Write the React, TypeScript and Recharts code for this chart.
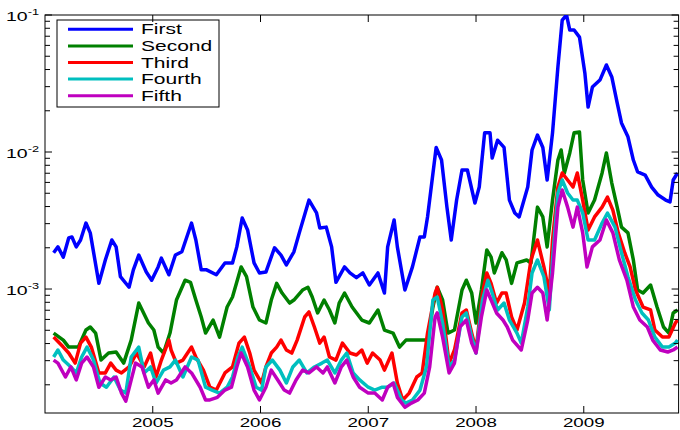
import React from 'react';
import { LineChart, Line, XAxis, YAxis, Customized } from 'recharts';

// Series labels and colours (plotted in this order, so Fifth ends up on top)
const seriesNames = ['First', 'Second', 'Third', 'Fourth', 'Fifth'];
const seriesColors = ['#0000ff', '#008000', '#ff0000', '#00bfbf', '#bf00bf'];

// Dates are decimal years
const firstDates = [2004.08, 2004.12, 2004.17, 2004.22, 2004.25, 2004.29, 2004.33, 2004.38, 2004.42, 2004.5, 2004.56, 2004.62, 2004.66, 2004.7, 2004.78, 2004.82, 2004.87, 2004.94, 2004.99, 2005.05, 2005.08, 2005.15, 2005.21, 2005.27, 2005.36, 2005.4, 2005.45, 2005.5, 2005.59, 2005.67, 2005.74, 2005.78, 2005.83, 2005.88, 2005.94, 2005.99, 2006.05, 2006.13, 2006.19, 2006.24, 2006.31, 2006.36, 2006.45, 2006.52, 2006.55, 2006.61, 2006.66, 2006.7, 2006.78, 2006.83, 2006.89, 2006.95, 2007.01, 2007.09, 2007.15, 2007.18, 2007.24, 2007.27, 2007.34, 2007.41, 2007.48, 2007.52, 2007.55, 2007.63, 2007.68, 2007.73, 2007.77, 2007.82, 2007.87, 2007.92, 2007.99, 2008.03, 2008.08, 2008.13, 2008.15, 2008.2, 2008.26, 2008.31, 2008.36, 2008.4, 2008.48, 2008.52, 2008.57, 2008.62, 2008.66, 2008.71, 2008.76, 2008.8, 2008.84, 2008.87, 2008.91, 2008.96, 2009.01, 2009.04, 2009.08, 2009.15, 2009.21, 2009.26, 2009.31, 2009.35, 2009.41, 2009.46, 2009.5, 2009.57, 2009.63, 2009.69, 2009.76, 2009.8, 2009.83, 2009.87];
const firstValues = [0.00184, 0.00203, 0.00171, 0.00236, 0.0024, 0.00203, 0.00228, 0.00303, 0.00257, 0.0011, 0.00163, 0.00228, 0.00203, 0.00123, 0.00103, 0.00138, 0.00177, 0.00133, 0.00116, 0.00145, 0.00168, 0.00127, 0.00177, 0.00187, 0.00303, 0.00228, 0.00138, 0.00138, 0.00127, 0.00155, 0.00155, 0.00203, 0.0033, 0.0027, 0.00155, 0.00131, 0.00133, 0.002, 0.00177, 0.0015, 0.00187, 0.00257, 0.00446, 0.00359, 0.00279, 0.00283, 0.00203, 0.00112, 0.00145, 0.00131, 0.00121, 0.00131, 0.00107, 0.00131, 0.000935, 0.00203, 0.00319, 0.00203, 0.000983, 0.00145, 0.0024, 0.0024, 0.00336, 0.0108, 0.00874, 0.00396, 0.00228, 0.00446, 0.00739, 0.00739, 0.00424, 0.00555, 0.0138, 0.0138, 0.00904, 0.0122, 0.0108, 0.00446, 0.00359, 0.00336, 0.00555, 0.01034, 0.0133, 0.0108, 0.00625, 0.0138, 0.0418, 0.0919, 0.1, 0.0777, 0.0777, 0.069, 0.0378, 0.0213, 0.0298, 0.0335, 0.0432, 0.0353, 0.0228, 0.0163, 0.0129, 0.00874, 0.00715, 0.00679, 0.00555, 0.00485, 0.00446, 0.00432, 0.00625, 0.00703];

const secondDates = [2004.08, 2004.17, 2004.22, 2004.31, 2004.38, 2004.42, 2004.47, 2004.52, 2004.59, 2004.66, 2004.73, 2004.8, 2004.87, 2004.96, 2005.01, 2005.05, 2005.1, 2005.16, 2005.22, 2005.3, 2005.35, 2005.4, 2005.45, 2005.49, 2005.56, 2005.62, 2005.69, 2005.74, 2005.82, 2005.87, 2005.93, 2005.99, 2006.05, 2006.1, 2006.15, 2006.2, 2006.27, 2006.31, 2006.39, 2006.44, 2006.48, 2006.53, 2006.59, 2006.64, 2006.69, 2006.73, 2006.78, 2006.85, 2006.94, 2007.01, 2007.09, 2007.15, 2007.23, 2007.29, 2007.35, 2007.43, 2007.5, 2007.55, 2007.6, 2007.64, 2007.69, 2007.74, 2007.8, 2007.87, 2007.91, 2007.96, 2008.0, 2008.05, 2008.1, 2008.14, 2008.17, 2008.24, 2008.28, 2008.33, 2008.38, 2008.47, 2008.51, 2008.57, 2008.62, 2008.66, 2008.71, 2008.76, 2008.79, 2008.82, 2008.87, 2008.91, 2008.96, 2008.99, 2009.04, 2009.1, 2009.17, 2009.21, 2009.26, 2009.31, 2009.35, 2009.41, 2009.46, 2009.5, 2009.55, 2009.62, 2009.68, 2009.74, 2009.79, 2009.83, 2009.87];
const secondValues = [0.000477, 0.000424, 0.000377, 0.000377, 0.000502, 0.000528, 0.000477, 0.000303, 0.000341, 0.000347, 0.000288, 0.000424, 0.00079, 0.000565, 0.000502, 0.000377, 0.000341, 0.000477, 0.000831, 0.00116, 0.00112, 0.000831, 0.000625, 0.000477, 0.000594, 0.000446, 0.000739, 0.000874, 0.00145, 0.00123, 0.000739, 0.000594, 0.000565, 0.000831, 0.0011, 0.000935, 0.00079, 0.000831, 0.000983, 0.00103, 0.000874, 0.000669, 0.000831, 0.000703, 0.000565, 0.00079, 0.000935, 0.000739, 0.000594, 0.000565, 0.000703, 0.000502, 0.000477, 0.000377, 0.000424, 0.000424, 0.000424, 0.000424, 0.000739, 0.00103, 0.000831, 0.000477, 0.000502, 0.000983, 0.00116, 0.000935, 0.000565, 0.000983, 0.00193, 0.00171, 0.00131, 0.00184, 0.00163, 0.0011, 0.00155, 0.00163, 0.00155, 0.00396, 0.00336, 0.00203, 0.00446, 0.00874, 0.01034, 0.00703, 0.00984, 0.0138, 0.014, 0.00625, 0.00359, 0.00446, 0.00703, 0.00984, 0.00594, 0.00396, 0.00283, 0.00257, 0.00163, 0.000983, 0.000935, 0.00107, 0.000739, 0.000528, 0.000477, 0.000669, 0.000703];

const thirdDates = [2004.08, 2004.17, 2004.22, 2004.28, 2004.33, 2004.38, 2004.43, 2004.5, 2004.56, 2004.61, 2004.66, 2004.71, 2004.78, 2004.85, 2004.92, 2004.98, 2005.03, 2005.08, 2005.15, 2005.17, 2005.22, 2005.28, 2005.36, 2005.4, 2005.47, 2005.53, 2005.59, 2005.67, 2005.74, 2005.8, 2005.85, 2005.9, 2005.94, 2006.01, 2006.05, 2006.1, 2006.15, 2006.19, 2006.24, 2006.29, 2006.34, 2006.41, 2006.45, 2006.5, 2006.55, 2006.59, 2006.64, 2006.7, 2006.76, 2006.83, 2006.89, 2006.94, 2006.99, 2007.04, 2007.11, 2007.15, 2007.22, 2007.27, 2007.32, 2007.38, 2007.45, 2007.5, 2007.55, 2007.62, 2007.64, 2007.69, 2007.75, 2007.8, 2007.87, 2007.91, 2007.96, 2008.0, 2008.06, 2008.1, 2008.14, 2008.19, 2008.24, 2008.28, 2008.33, 2008.38, 2008.45, 2008.51, 2008.57, 2008.63, 2008.68, 2008.71, 2008.76, 2008.8, 2008.85, 2008.9, 2008.94, 2008.99, 2009.04, 2009.1, 2009.17, 2009.22, 2009.27, 2009.32, 2009.38, 2009.43, 2009.48, 2009.55, 2009.62, 2009.66, 2009.73, 2009.79, 2009.85, 2009.87];
const thirdValues = [0.000446, 0.000377, 0.000341, 0.000288, 0.000403, 0.000446, 0.000377, 0.000244, 0.000244, 0.000288, 0.000256, 0.000244, 0.00027, 0.000341, 0.00027, 0.000341, 0.000228, 0.000303, 0.000424, 0.000359, 0.000288, 0.000303, 0.000377, 0.000319, 0.000256, 0.000192, 0.000183, 0.000244, 0.00027, 0.000403, 0.000446, 0.000341, 0.000256, 0.000206, 0.00027, 0.000341, 0.000377, 0.000424, 0.000359, 0.000341, 0.000424, 0.000625, 0.00068, 0.000528, 0.000403, 0.000446, 0.000319, 0.000303, 0.000403, 0.000341, 0.00033, 0.000359, 0.000288, 0.000341, 0.000303, 0.000256, 0.000341, 0.000206, 0.000155, 0.000174, 0.000228, 0.000244, 0.000477, 0.000935, 0.00103, 0.000703, 0.000288, 0.000359, 0.000669, 0.000703, 0.000477, 0.000359, 0.000935, 0.00131, 0.0011, 0.00079, 0.000935, 0.000935, 0.000625, 0.000502, 0.00079, 0.00163, 0.00228, 0.00145, 0.000935, 0.00228, 0.00555, 0.00703, 0.00625, 0.00555, 0.00703, 0.00446, 0.0027, 0.00336, 0.00396, 0.00469, 0.00377, 0.00257, 0.00184, 0.00145, 0.000983, 0.000739, 0.000703, 0.000502, 0.000446, 0.000446, 0.000565, 0.000594];

const fourthDates = [2004.08, 2004.12, 2004.17, 2004.24, 2004.29, 2004.34, 2004.39, 2004.45, 2004.51, 2004.57, 2004.64, 2004.7, 2004.75, 2004.8, 2004.87, 2004.92, 2004.98, 2005.03, 2005.1, 2005.16, 2005.21, 2005.28, 2005.36, 2005.42, 2005.49, 2005.55, 2005.62, 2005.69, 2005.74, 2005.79, 2005.83, 2005.9, 2005.96, 2006.01, 2006.05, 2006.11, 2006.18, 2006.24, 2006.3, 2006.36, 2006.43, 2006.5, 2006.57, 2006.62, 2006.69, 2006.75, 2006.8, 2006.86, 2006.92, 2007.0, 2007.06, 2007.13, 2007.18, 2007.24, 2007.31, 2007.35, 2007.41, 2007.48, 2007.54, 2007.6, 2007.64, 2007.69, 2007.75, 2007.8, 2007.87, 2007.91, 2007.96, 2008.0, 2008.06, 2008.11, 2008.15, 2008.2, 2008.26, 2008.31, 2008.38, 2008.42, 2008.48, 2008.52, 2008.57, 2008.63, 2008.68, 2008.71, 2008.76, 2008.8, 2008.85, 2008.9, 2008.94, 2008.99, 2009.04, 2009.1, 2009.17, 2009.22, 2009.29, 2009.35, 2009.41, 2009.48, 2009.54, 2009.6, 2009.66, 2009.73, 2009.79, 2009.85, 2009.87];
const fourthValues = [0.000319, 0.000359, 0.000303, 0.00027, 0.000244, 0.000319, 0.000377, 0.000303, 0.000206, 0.000192, 0.000228, 0.000183, 0.000174, 0.000319, 0.000377, 0.000244, 0.00027, 0.000206, 0.000256, 0.00027, 0.000303, 0.000228, 0.000319, 0.000303, 0.000192, 0.000183, 0.000174, 0.000192, 0.000228, 0.000319, 0.000377, 0.00027, 0.000192, 0.000183, 0.00027, 0.000303, 0.000256, 0.000206, 0.00027, 0.000303, 0.000244, 0.00027, 0.000288, 0.000303, 0.000244, 0.000303, 0.000341, 0.000244, 0.000217, 0.000192, 0.000183, 0.000192, 0.000192, 0.000206, 0.000155, 0.000147, 0.000155, 0.000183, 0.00027, 0.000831, 0.000874, 0.000565, 0.00027, 0.000303, 0.000625, 0.000669, 0.000446, 0.000341, 0.000831, 0.00116, 0.000935, 0.000703, 0.00079, 0.000594, 0.000477, 0.000403, 0.000739, 0.00131, 0.00163, 0.00123, 0.000703, 0.00163, 0.00502, 0.00625, 0.00502, 0.00446, 0.00446, 0.00359, 0.00228, 0.00228, 0.00303, 0.00359, 0.00283, 0.00184, 0.00123, 0.000831, 0.000669, 0.000594, 0.000446, 0.000377, 0.000377, 0.000403, 0.000424];

const fifthDates = [2004.08, 2004.12, 2004.19, 2004.24, 2004.29, 2004.34, 2004.39, 2004.45, 2004.5, 2004.56, 2004.61, 2004.66, 2004.71, 2004.75, 2004.8, 2004.84, 2004.9, 2004.96, 2005.01, 2005.05, 2005.12, 2005.17, 2005.22, 2005.3, 2005.36, 2005.44, 2005.49, 2005.53, 2005.6, 2005.67, 2005.73, 2005.78, 2005.82, 2005.88, 2005.94, 2005.99, 2006.05, 2006.1, 2006.16, 2006.22, 2006.27, 2006.33, 2006.39, 2006.45, 2006.52, 2006.58, 2006.62, 2006.69, 2006.75, 2006.8, 2006.86, 2006.92, 2007.0, 2007.06, 2007.13, 2007.18, 2007.23, 2007.27, 2007.34, 2007.4, 2007.46, 2007.52, 2007.57, 2007.62, 2007.64, 2007.69, 2007.75, 2007.8, 2007.85, 2007.91, 2007.96, 2008.0, 2008.05, 2008.1, 2008.14, 2008.19, 2008.25, 2008.29, 2008.34, 2008.42, 2008.48, 2008.52, 2008.57, 2008.62, 2008.66, 2008.71, 2008.76, 2008.8, 2008.85, 2008.9, 2008.94, 2008.99, 2009.03, 2009.08, 2009.15, 2009.21, 2009.27, 2009.33, 2009.4, 2009.46, 2009.52, 2009.59, 2009.64, 2009.71, 2009.78, 2009.83, 2009.87];
const fifthValues = [0.000303, 0.000288, 0.000228, 0.00027, 0.000217, 0.000288, 0.000319, 0.00027, 0.000192, 0.000228, 0.000217, 0.000228, 0.000174, 0.000152, 0.000217, 0.000288, 0.00027, 0.000192, 0.000217, 0.000174, 0.000217, 0.000206, 0.000217, 0.00027, 0.000244, 0.000192, 0.000155, 0.000155, 0.000162, 0.000183, 0.000192, 0.00027, 0.000341, 0.00027, 0.000183, 0.000155, 0.000192, 0.000256, 0.000217, 0.000183, 0.000174, 0.000217, 0.000256, 0.000244, 0.00027, 0.000244, 0.00027, 0.000206, 0.00027, 0.000303, 0.000228, 0.000192, 0.000174, 0.000174, 0.000155, 0.000192, 0.000206, 0.000162, 0.000137, 0.000147, 0.000155, 0.000174, 0.00027, 0.000625, 0.000669, 0.000446, 0.000244, 0.000288, 0.000528, 0.000594, 0.000403, 0.000341, 0.000625, 0.000983, 0.000831, 0.000669, 0.000594, 0.000528, 0.000424, 0.000359, 0.000594, 0.000935, 0.00103, 0.000935, 0.000594, 0.00131, 0.00396, 0.00528, 0.00396, 0.00283, 0.00396, 0.00257, 0.00145, 0.00203, 0.00228, 0.00319, 0.00257, 0.00163, 0.00116, 0.000739, 0.000594, 0.000528, 0.000424, 0.000359, 0.000347, 0.000359, 0.000377];

// Axis ticks
const yearTicks = [2005, 2006, 2007, 2008, 2009];
const decadeTicks = [1e-3, 1e-2, 1e-1];
const minorMantissas = [2, 3, 4, 5, 6, 7, 8, 9];
const minorDecades = [1e-4, 1e-3, 1e-2];

const X_DOMAIN: [number, number] = [2004.0, 2009.88];
const Y_DOMAIN: [number, number] = [1.245e-4, 0.1];

// Chart geometry
const WIDTH = 680;
const HEIGHT = 430;
const PLOT = { left: 45, top: 15, right: 678.6, bottom: 413 };
const FONT = '"Liberation Sans", Arial, Helvetica, sans-serif';
const STRETCH = 1.5;

const seriesData = [
  [firstDates, firstValues],
  [secondDates, secondValues],
  [thirdDates, thirdValues],
  [fourthDates, fourthValues],
  [fifthDates, fifthValues],
].map(([dates, values]) => dates.map((t, i) => ({ t, v: values[i] })));

const yTicks = [
  ...minorDecades.flatMap((d) => minorMantissas.map((m) => +(m * d).toPrecision(3))),
  ...decadeTicks,
].sort((a, b) => a - b);

const YTick = (props: any) => {
  const { y, payload } = props;
  const lg = Math.log10(payload.value);
  const exp = Math.round(lg);
  const major = Math.abs(lg - exp) < 1e-6;
  const len = major ? 7 : 5;
  return (
    <g>
      <line x1={PLOT.left} x2={PLOT.left + len} y1={y} y2={y} stroke="#000" strokeWidth={1} />
      <line x1={PLOT.right - len} x2={PLOT.right} y1={y} y2={y} stroke="#000" strokeWidth={1} />
      {major && (
        <text
          transform={`translate(${PLOT.left - 6},${y + 6}) scale(${STRETCH},1)`}
          textAnchor="end"
          fontFamily={FONT}
          fontSize={13}
          fill="#000"
        >
          <tspan>10</tspan>
          <tspan dy={-6.5} fontSize={8.5}>{exp}</tspan>
        </text>
      )}
    </g>
  );
};

const XTick = (props: any) => {
  const { x, payload } = props;
  return (
    <g>
      <line x1={x} x2={x} y1={PLOT.bottom - 7} y2={PLOT.bottom} stroke="#000" strokeWidth={1} />
      <line x1={x} x2={x} y1={PLOT.top} y2={PLOT.top + 7} stroke="#000" strokeWidth={1} />
      <text
        transform={`translate(${x},${PLOT.bottom + 14}) scale(${STRETCH},1)`}
        textAnchor="middle"
        fontFamily={FONT}
        fontSize={12.5}
        fill="#000"
      >
        {payload.value}
      </text>
    </g>
  );
};

const Frame = () => (
  <rect
    x={PLOT.left}
    y={PLOT.top}
    width={PLOT.right - PLOT.left}
    height={PLOT.bottom - PLOT.top}
    fill="none"
    stroke="#000"
    strokeWidth={1}
  />
);

const LegendBox = () => {
  const box = { x: 57, y: 20, w: 162, h: 87 };
  const rowTop = 29.3;
  const rowStep = 16.6;
  return (
    <g>
      <rect x={box.x} y={box.y} width={box.w} height={box.h} fill="#fff" stroke="#000" strokeWidth={1} />
      {seriesNames.map((name, i) => {
        const ry = rowTop + i * rowStep;
        return (
          <g key={name}>
            <line x1={68} x2={133} y1={ry} y2={ry} stroke={seriesColors[i]} strokeWidth={3} />
            <text
              transform={`translate(141,${ry + 5}) scale(${STRETCH},1)`}
              fontFamily={FONT}
              fontSize={14}
              fill="#000"
            >
              {name}
            </text>
          </g>
        );
      })}
    </g>
  );
};

export default function App() {
  return (
    <div style={{ position: 'absolute', left: 0, top: 0, width: WIDTH, height: HEIGHT, background: '#fff' }}>
      <LineChart
        width={WIDTH}
        height={HEIGHT}
        margin={{ top: PLOT.top, right: WIDTH - PLOT.right, left: 0, bottom: 0 }}
      >
        <XAxis
          dataKey="t"
          type="number"
          domain={X_DOMAIN}
          allowDataOverflow
          ticks={yearTicks}
          interval={0}
          height={HEIGHT - PLOT.bottom}
          tick={<XTick />}
          tickLine={false}
          axisLine={false}
        />
        <YAxis
          type="number"
          scale="log"
          domain={Y_DOMAIN}
          allowDataOverflow
          ticks={yTicks}
          interval={0}
          width={PLOT.left}
          tick={<YTick />}
          tickLine={false}
          axisLine={false}
        />
        {seriesData.map((data, i) => (
          <Line
            key={seriesNames[i]}
            data={data}
            dataKey="v"
            name={seriesNames[i]}
            type="linear"
            stroke={seriesColors[i]}
            strokeWidth={3.5}
            strokeLinejoin="round"
            dot={false}
            activeDot={false}
            isAnimationActive={false}
          />
        ))}
        <Customized component={Frame} />
        <Customized component={LegendBox} />
      </LineChart>
    </div>
  );
}
